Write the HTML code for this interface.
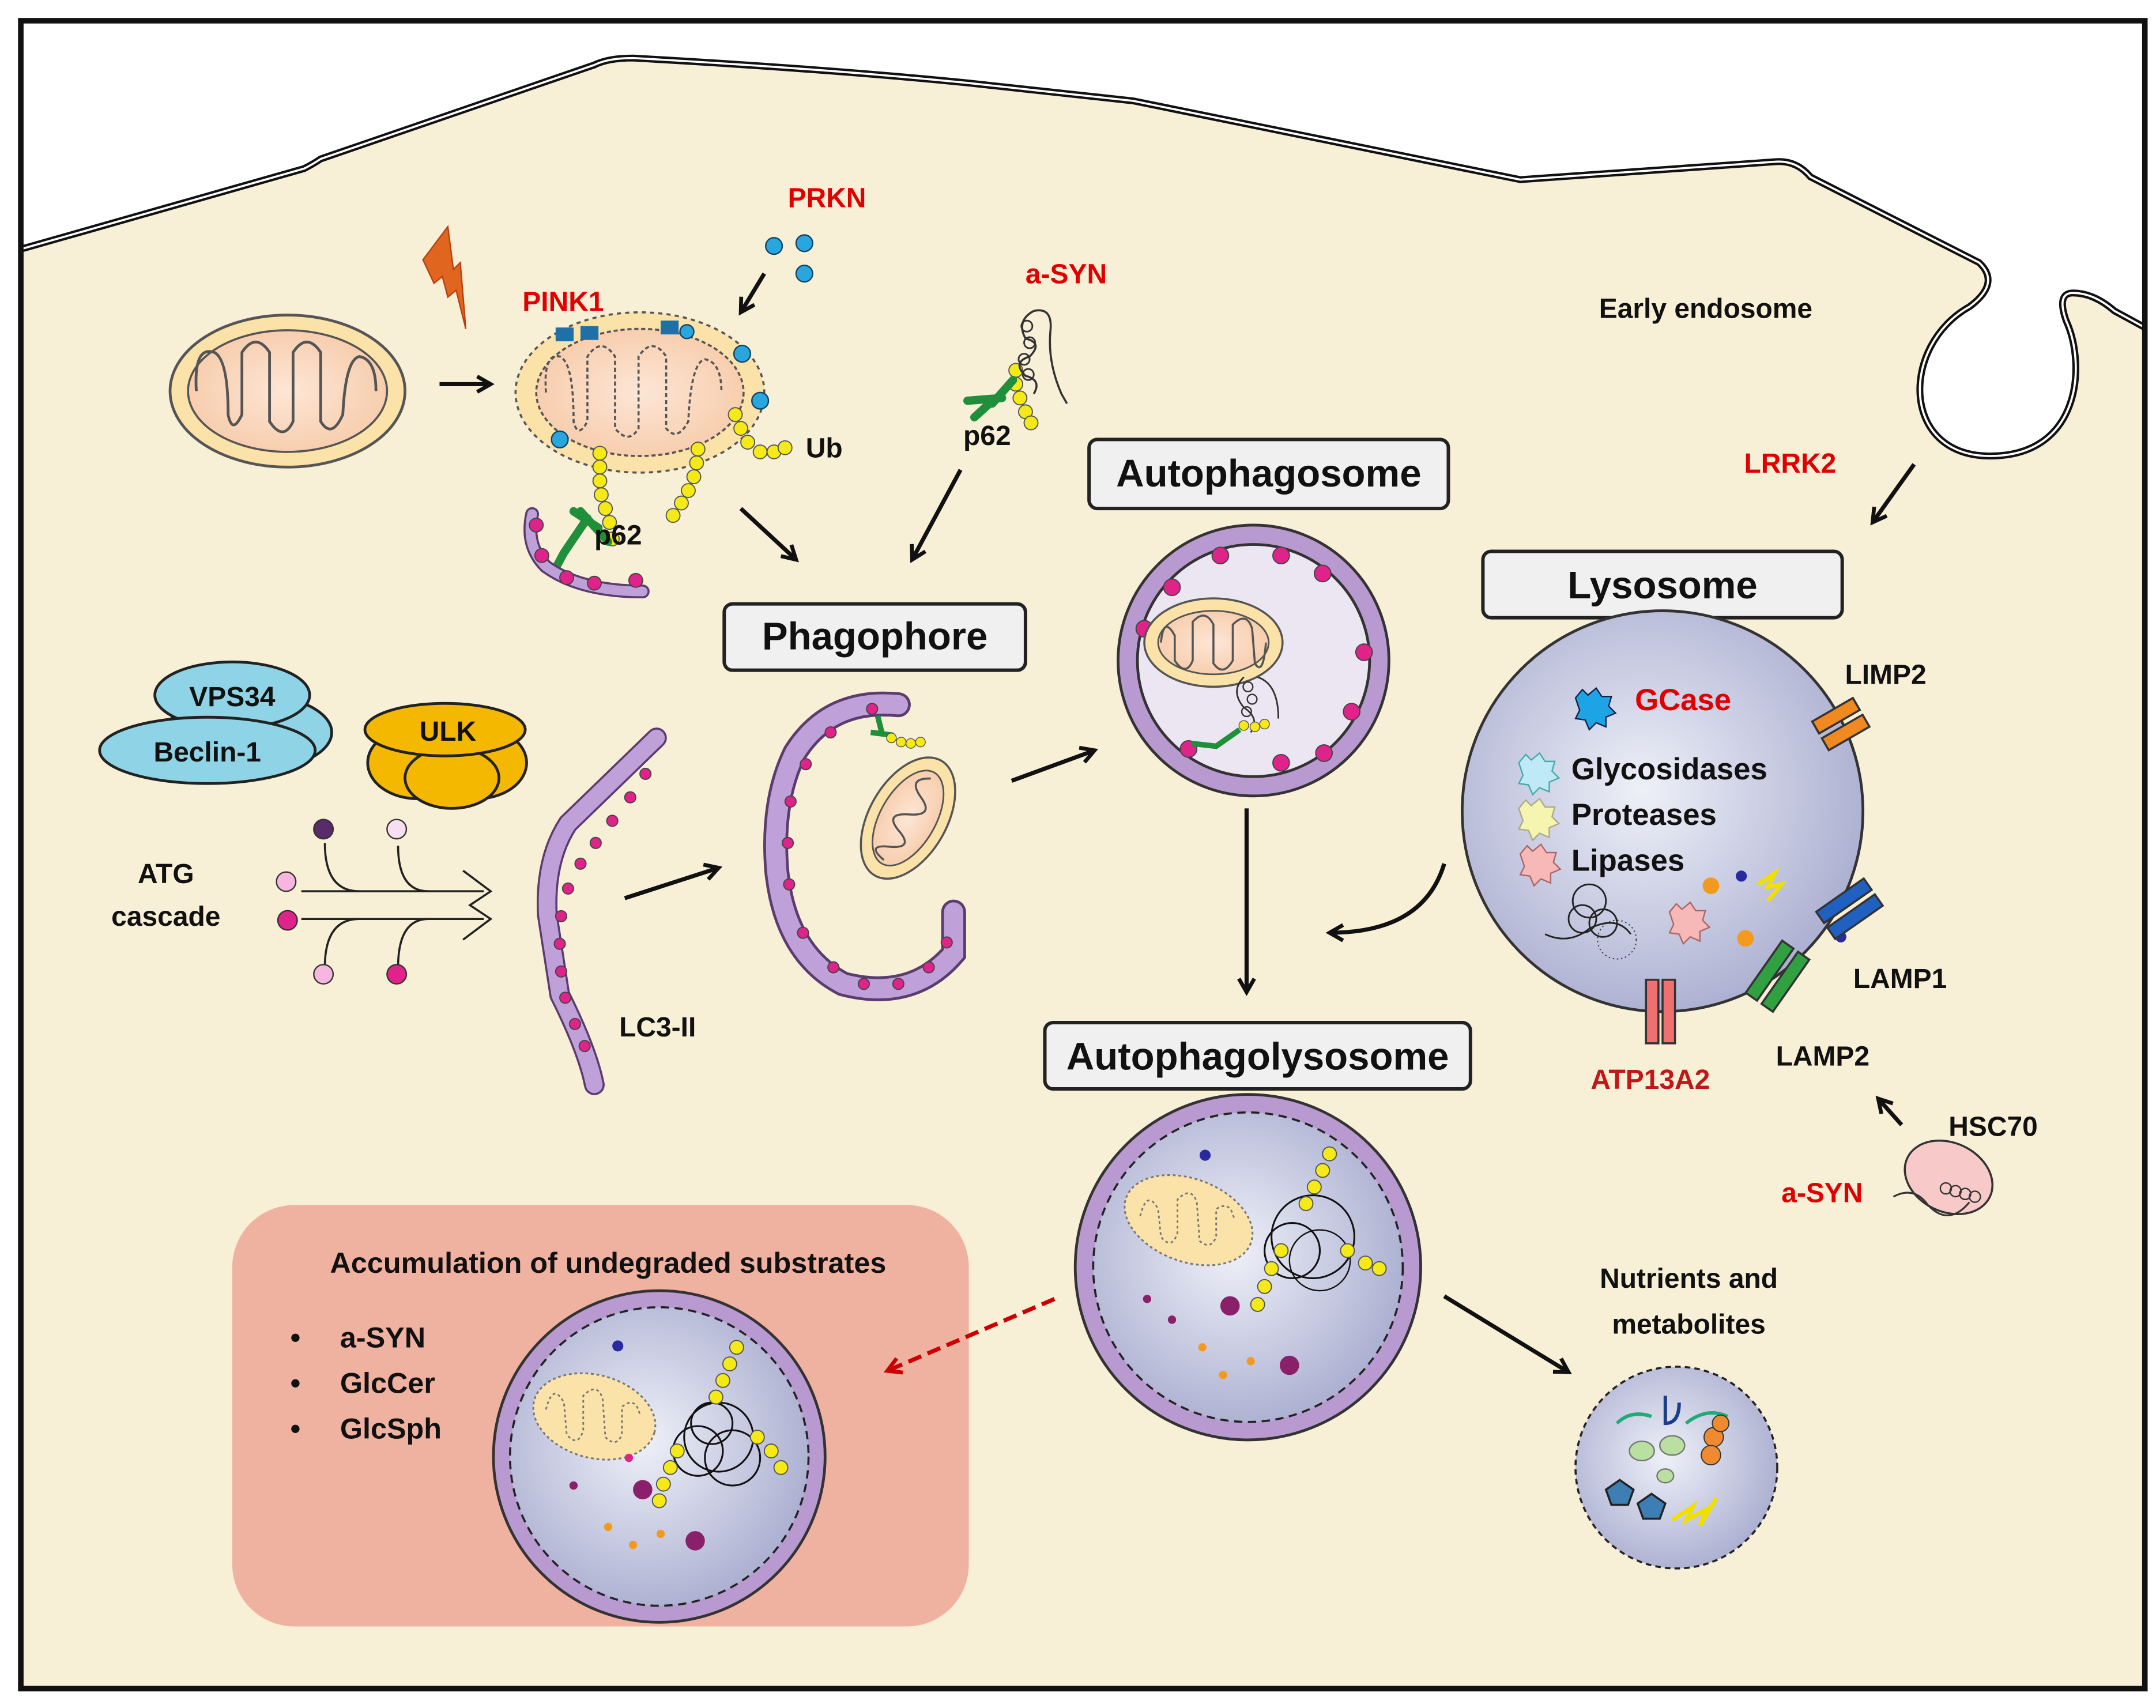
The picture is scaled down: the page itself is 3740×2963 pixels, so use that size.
<!DOCTYPE html>
<html><head><style>html,body{margin:0;padding:0;background:#fff}svg{display:block}
text{font-family:"Liberation Sans",sans-serif;font-weight:bold}</style></head><body>
<svg width="3740" height="2963" viewBox="0 0 1560 1236" xmlns="http://www.w3.org/2000/svg">
<defs>
<marker id="ar2" viewBox="0 0 10 10" markerWidth="14" markerHeight="14" refX="8" refY="5" orient="auto" markerUnits="userSpaceOnUse"><path d="M1,1 L8,5 L1,9" fill="none" stroke="#111" stroke-width="2"/></marker>
<marker id="arr" viewBox="0 0 10 10" markerWidth="14" markerHeight="14" refX="8" refY="5" orient="auto" markerUnits="userSpaceOnUse"><path d="M1,1 L8,5 L1,9" fill="none" stroke="#c00" stroke-width="2"/></marker>
<radialGradient id="lys" cx="0.45" cy="0.45" r="0.6"><stop offset="0" stop-color="#eef0f8"/><stop offset="1" stop-color="#a9adcf"/></radialGradient>
<radialGradient id="mito" cx="0.5" cy="0.5" r="0.6"><stop offset="0" stop-color="#fde6d6"/><stop offset="1" stop-color="#f6c9a6"/></radialGradient>
</defs>
<rect x="0" y="0" width="1560" height="1236" fill="#fff"/>
<path d="M16,180 L220,122 Q226,119 232,115 L430,47 Q440,42 458,42 Q600,50 700,60 L820,73 L1100,130 L1285,117 Q1300,116 1310,128 L1432,190 Q1448,205 1425,222 C1375,250 1375,330 1440,330 C1505,330 1510,265 1495,232 Q1488,212 1500,212 Q1515,212 1530,225 L1552,237 L1552,1222 L16,1222 Z" fill="#f8efd7"/>
<path d="M16,180 L220,122 Q226,119 232,115 L430,47 Q440,42 458,42 Q600,50 700,60 L820,73 L1100,130 L1285,117 Q1300,116 1310,128 L1432,190 Q1448,205 1425,222 C1375,250 1375,330 1440,330 C1505,330 1510,265 1495,232 Q1488,212 1500,212 Q1515,212 1530,225 L1552,237" fill="none" stroke="#111" stroke-width="5"/>
<path d="M16,180 L220,122 Q226,119 232,115 L430,47 Q440,42 458,42 Q600,50 700,60 L820,73 L1100,130 L1285,117 Q1300,116 1310,128 L1432,190 Q1448,205 1425,222 C1375,250 1375,330 1440,330 C1505,330 1510,265 1495,232 Q1488,212 1500,212 Q1515,212 1530,225 L1552,237" fill="none" stroke="#fff" stroke-width="1.5"/>
<rect x="15" y="15" width="1537" height="1207" fill="none" stroke="#111" stroke-width="4"/>

<ellipse cx="208" cy="283" rx="85" ry="55" fill="#fbe2a8" stroke="#555" stroke-width="2"/>
<ellipse cx="208" cy="283" rx="72" ry="44" fill="url(#mito)" stroke="#555" stroke-width="1.5"/>
<path d="M142,283 Q140,250 155,255 Q165,260 165,300 Q168,315 175,300 L175,255 Q185,240 195,255 L195,305 Q205,320 212,305 L212,255 Q222,240 232,255 L232,305 Q240,318 248,300 Q250,260 260,258 Q272,260 272,283" fill="none" stroke="#555" stroke-width="2"/>
<line x1="318" y1="278" x2="355" y2="278" stroke="#111" stroke-width="3" marker-end="url(#ar2)"/>
<path d="M324,164 L306,188 L314,205 L320,200 L324,215 L330,210 L337,238 L333,190 L328,195 Z" fill="#e0651e" stroke="#b84010" stroke-width="1"/>
<ellipse cx="463" cy="284" rx="90" ry="58" fill="#fbe2a8" stroke="#555" stroke-width="1.5" stroke-dasharray="3,3"/>
<ellipse cx="463" cy="284" rx="75" ry="46" fill="url(#mito)" stroke="#555" stroke-width="1.5" stroke-dasharray="3,2"/>
<path d="M395,284 Q393,255 405,258 Q415,262 415,305 Q418,318 425,305 L425,258 Q435,243 445,258 L445,310 Q455,322 462,310 L462,258 Q472,243 482,258 L482,310 Q490,320 498,305 Q500,262 510,260 Q522,262 522,284" fill="none" stroke="#555" stroke-width="1.5" stroke-dasharray="3,2"/>
<g fill="#1f6fa8"><rect x="402" y="237" width="13" height="10"/><rect x="420" y="236" width="13" height="10"/><rect x="478" y="232" width="13" height="10"/></g>
<g fill="#2aa6df" stroke="#146" stroke-width="1"><circle cx="497" cy="240" r="5"/><circle cx="537" cy="256" r="6"/><circle cx="550" cy="290" r="6"/><circle cx="405" cy="318" r="6"/>
<circle cx="560" cy="178" r="6"/><circle cx="582" cy="176" r="6"/><circle cx="582" cy="198" r="6"/></g>
<text x="570" y="150" font-size="20" fill="#e00000">PRKN</text>
<text x="378" y="225" font-size="20" fill="#e00000">PINK1</text>
<line x1="553" y1="198" x2="536" y2="226" stroke="#111" stroke-width="3" marker-end="url(#ar2)"/>
<g fill="#f5ea17" stroke="#555" stroke-width="0.8">
<circle cx="434" cy="328" r="5"/><circle cx="434" cy="338" r="5"/><circle cx="434" cy="348" r="5"/><circle cx="435" cy="358" r="5"/><circle cx="438" cy="368" r="5"/><circle cx="441" cy="378" r="5"/><circle cx="443" cy="390" r="5"/>
<circle cx="505" cy="325" r="5"/><circle cx="504" cy="335" r="5"/><circle cx="502" cy="345" r="5"/><circle cx="498" cy="355" r="5"/><circle cx="493" cy="364" r="5"/><circle cx="487" cy="373" r="5"/>
<circle cx="532" cy="300" r="5"/><circle cx="536" cy="310" r="5"/><circle cx="541" cy="320" r="5"/><circle cx="550" cy="327" r="5"/><circle cx="560" cy="327" r="5"/><circle cx="568" cy="324" r="5"/>
<circle cx="735" cy="268" r="5"/><circle cx="735" cy="278" r="5"/><circle cx="738" cy="288" r="5"/><circle cx="742" cy="298" r="5"/><circle cx="746" cy="306" r="5"/>
</g>
<text x="583" y="331" font-size="20" fill="#111">Ub</text>
<path d="M440,392 L420,370 M433,382 L415,370 M425,375 L408,400 M408,400 L400,415" stroke="#1f8f3a" stroke-width="6" fill="none" stroke-linecap="round"/>
<path d="M385,372 Q380,395 395,410 Q420,428 465,428" fill="none" stroke="#5a3c6e" stroke-width="10" stroke-linecap="round"/>
<path d="M385,372 Q380,395 395,410 Q420,428 465,428" fill="none" stroke="#c0a0d8" stroke-width="7" stroke-linecap="round"/>
<g fill="#e0238a" stroke="#444" stroke-width="0.8"><circle cx="388" cy="380" r="5"/><circle cx="392" cy="402" r="5"/><circle cx="410" cy="418" r="5"/><circle cx="430" cy="422" r="5"/><circle cx="460" cy="420" r="5"/></g>
<text x="430" y="394" font-size="20" fill="#111">p62</text>
<line x1="536" y1="368" x2="576" y2="405" stroke="#111" stroke-width="3" marker-end="url(#ar2)"/>
<text x="742" y="205" font-size="20" fill="#e00000">a-SYN</text>
<path d="M748,225 Q735,232 742,245 Q755,248 745,258 Q732,262 742,272 Q754,275 748,285 M748,225 Q762,222 760,240 Q758,262 768,285 L772,292" fill="none" stroke="#333" stroke-width="1.5"/>
<g fill="none" stroke="#333" stroke-width="1.2"><circle cx="743" cy="236" r="4"/><circle cx="745" cy="248" r="4"/><circle cx="741" cy="260" r="4"/><circle cx="744" cy="271" r="4"/></g>
<path d="M733,275 L718,292 M725,288 L700,290 M716,292 L705,302" stroke="#1f8f3a" stroke-width="6" fill="none" stroke-linecap="round"/>
<text x="697" y="322" font-size="20" fill="#111">p62</text>
<line x1="695" y1="340" x2="660" y2="405" stroke="#111" stroke-width="3" marker-end="url(#ar2)"/>
<text x="1157" y="230" font-size="20" fill="#111">Early endosome</text>
<text x="1262" y="342" font-size="20" fill="#e00000">LRRK2</text>
<line x1="1385" y1="336" x2="1355" y2="378" stroke="#111" stroke-width="3" marker-end="url(#ar2)"/>

<g fill="#f0f0f0" stroke="#222" stroke-width="2.5">
<rect x="788" y="318" width="260" height="50" rx="6"/>
<rect x="524" y="437" width="218" height="48" rx="6"/>
<rect x="1073" y="399" width="260" height="48" rx="6"/>
<rect x="756" y="740" width="308" height="48" rx="6"/>
</g>
<g font-size="28" fill="#111" text-anchor="middle">
<text x="918" y="352">Autophagosome</text>
<text x="633" y="470">Phagophore</text>
<text x="1203" y="433">Lysosome</text>
<text x="910" y="774">Autophagolysosome</text>
</g>

<ellipse cx="180" cy="530" rx="60" ry="28" fill="#8ed4e6" stroke="#222" stroke-width="2"/>
<ellipse cx="168" cy="503" rx="56" ry="24" fill="#8ed4e6" stroke="#222" stroke-width="2"/>
<ellipse cx="150" cy="543" rx="78" ry="24" fill="#8ed4e6" stroke="#222" stroke-width="2"/>
<text x="168" y="511" font-size="20" fill="#111" text-anchor="middle">VPS34</text>
<text x="150" y="551" font-size="20" fill="#111" text-anchor="middle">Beclin-1</text>
<ellipse cx="302" cy="552" rx="36" ry="26" fill="#f5b800" stroke="#222" stroke-width="2"/>
<ellipse cx="345" cy="552" rx="36" ry="26" fill="#f5b800" stroke="#222" stroke-width="2"/>
<ellipse cx="327" cy="563" rx="34" ry="22" fill="#f5b800" stroke="#222" stroke-width="2"/>
<ellipse cx="322" cy="528" rx="58" ry="19" fill="#f5b800" stroke="#222" stroke-width="2"/>
<text x="324" y="536" font-size="20" fill="#111" text-anchor="middle">ULK</text>
<text x="120" y="639" font-size="20" fill="#111" text-anchor="middle">ATG</text>
<text x="120" y="670" font-size="20" fill="#111" text-anchor="middle">cascade</text>
<g stroke="#222" stroke-width="1.5" fill="none">
<path d="M218,645 L350,645 M218,665 L350,665 M335,630 L355,645 L340,655 L355,665 L335,680"/>
<path d="M235,610 Q235,645 260,645 M288,612 Q288,645 310,645 M235,700 Q235,665 260,665 M288,700 Q288,665 310,665"/>
</g>
<g stroke="#333" stroke-width="1"><circle cx="234" cy="600" r="7" fill="#5a2b6a"/><circle cx="287" cy="600" r="7" fill="#f6dff0"/><circle cx="207" cy="638" r="7" fill="#f6b6e0"/><circle cx="208" cy="666" r="7" fill="#e0238a"/><circle cx="234" cy="705" r="7" fill="#f6b6e0"/><circle cx="287" cy="705" r="7" fill="#e0238a"/></g>
<path d="M475,534 L411,596 Q394,622 396,662 L405,720 Q425,760 430,785" fill="none" stroke="#5a3c6e" stroke-width="15" stroke-linecap="round"/>
<path d="M475,534 L411,596 Q394,622 396,662 L405,720 Q425,760 430,785" fill="none" stroke="#c0a0d8" stroke-width="12" stroke-linecap="round"/>
<g fill="#e0238a" stroke="#444" stroke-width="0.8"><circle cx="467" cy="560" r="4"/><circle cx="456" cy="577" r="4"/><circle cx="443" cy="594" r="4"/><circle cx="431" cy="610" r="4"/><circle cx="420" cy="625" r="4"/><circle cx="411" cy="643" r="4"/><circle cx="406" cy="663" r="4"/><circle cx="405" cy="683" r="4"/><circle cx="406" cy="703" r="4"/><circle cx="409" cy="722" r="4"/><circle cx="416" cy="741" r="4"/><circle cx="423" cy="757" r="4"/></g>
<text x="448" y="750" font-size="20" fill="#111">LC3-II</text>
<line x1="452" y1="650" x2="520" y2="628" stroke="#111" stroke-width="3" marker-end="url(#ar2)"/>
<path d="M650,510 Q600,505 575,545 Q558,580 562,630 Q568,690 610,712 Q660,725 690,690 L690,660" fill="none" stroke="#5a3c6e" stroke-width="18" stroke-linecap="round"/>
<path d="M650,510 Q600,505 575,545 Q558,580 562,630 Q568,690 610,712 Q660,725 690,690 L690,660" fill="none" stroke="#c0a0d8" stroke-width="14" stroke-linecap="round"/>
<g fill="#e0238a" stroke="#444" stroke-width="0.8"><circle cx="631" cy="513" r="4"/><circle cx="601" cy="530" r="4"/><circle cx="583" cy="553" r="4"/><circle cx="572" cy="580" r="4"/><circle cx="570" cy="610" r="4"/><circle cx="571" cy="640" r="4"/><circle cx="581" cy="675" r="4"/><circle cx="603" cy="700" r="4"/><circle cx="625" cy="712" r="4"/><circle cx="650" cy="712" r="4"/><circle cx="672" cy="700" r="4"/><circle cx="685" cy="682" r="4"/></g>
<g transform="rotate(-60 657 592)"><ellipse cx="657" cy="592" rx="48" ry="28" fill="#fbe2a8" stroke="#555" stroke-width="1.5"/><ellipse cx="657" cy="592" rx="38" ry="20" fill="url(#mito)" stroke="#555" stroke-width="1.2"/><path d="M622,592 Q625,575 632,590 Q640,608 646,590 Q652,575 660,592 Q668,608 675,592 Q682,577 690,592" fill="none" stroke="#555" stroke-width="1.5"/></g>
<path d="M635,518 L638,530 M630,530 L646,532" stroke="#1f8f3a" stroke-width="4"/>
<g fill="#f5ea17" stroke="#555" stroke-width="0.6"><circle cx="645" cy="534" r="3.5"/><circle cx="652" cy="537" r="3.5"/><circle cx="659" cy="538" r="3.5"/><circle cx="666" cy="537" r="3.5"/></g>
<line x1="732" y1="565" x2="792" y2="543" stroke="#111" stroke-width="3" marker-end="url(#ar2)"/>
<circle cx="907" cy="478" r="98" fill="#b89ad0" stroke="#333" stroke-width="2"/>
<circle cx="907" cy="478" r="84" fill="#ece6f2" stroke="#333" stroke-width="2"/>
<g fill="#e0238a" stroke="#444" stroke-width="0.8"><circle cx="883" cy="402" r="6"/><circle cx="927" cy="402" r="6"/><circle cx="957" cy="415" r="6"/><circle cx="987" cy="472" r="6"/><circle cx="978" cy="515" r="6"/><circle cx="958" cy="545" r="6"/><circle cx="927" cy="552" r="6"/><circle cx="860" cy="542" r="6"/><circle cx="828" cy="455" r="6"/><circle cx="848" cy="425" r="6"/></g>
<ellipse cx="878" cy="465" rx="50" ry="32" fill="#fbe2a8" stroke="#555" stroke-width="1.5"/><ellipse cx="878" cy="465" rx="40" ry="23" fill="url(#mito)" stroke="#555" stroke-width="1.2"/>
<path d="M840,465 Q842,445 850,460 L850,478 Q858,490 863,478 L863,450 Q872,440 878,452 L878,480 Q885,490 892,478 L892,452 Q902,442 906,455 L908,480 Q914,490 916,465" fill="none" stroke="#555" stroke-width="1.5"/>
<path d="M900,490 Q890,500 900,512 Q912,520 905,530 M910,490 Q925,495 925,520" fill="none" stroke="#333" stroke-width="1.2"/>
<g fill="none" stroke="#333" stroke-width="1"><circle cx="903" cy="497" r="3.5"/><circle cx="906" cy="506" r="3.5"/><circle cx="902" cy="515" r="3.5"/></g>
<path d="M897,528 L880,540 L862,538" stroke="#1f8f3a" stroke-width="4" fill="none"/>
<g fill="#f5ea17" stroke="#555" stroke-width="0.6"><circle cx="900" cy="525" r="3.5"/><circle cx="908" cy="526" r="3.5"/><circle cx="915" cy="524" r="3.5"/></g>
<line x1="902" y1="585" x2="902" y2="718" stroke="#111" stroke-width="3" marker-end="url(#ar2)"/>
<circle cx="1203" cy="587" r="145" fill="url(#lys)" stroke="#333" stroke-width="2"/>
<path d="M1140,505 l5,-6 l4,4 l6,-5 l4,6 l7,0 l-2,7 l5,5 l-7,3 l0,7 l-7,-3 l-5,5 l-3,-7 l-7,-1 l3,-6 z" fill="#1da4e6" stroke="#124" stroke-width="1"/>
<path d="M1099,552 l5,-6 l4,4 l6,-5 l4,6 l7,0 l-2,7 l5,5 l-7,3 l0,7 l-7,-3 l-5,5 l-3,-7 l-7,-1 l3,-6 z" fill="#bfe9f7" stroke="#4aa" stroke-width="1"/>
<path d="M1099,585 l5,-6 l4,4 l6,-5 l4,6 l7,0 l-2,7 l5,5 l-7,3 l0,7 l-7,-3 l-5,5 l-3,-7 l-7,-1 l3,-6 z" fill="#f6f5b0" stroke="#aa8" stroke-width="1"/>
<path d="M1100,618 l5,-6 l4,4 l6,-5 l4,6 l7,0 l-2,7 l5,5 l-7,3 l0,7 l-7,-3 l-5,5 l-3,-7 l-7,-1 l3,-6 z" fill="#f7b8b8" stroke="#a66" stroke-width="1"/>
<path d="M1208,660 l5,-6 l4,4 l6,-5 l4,6 l7,0 l-2,7 l5,5 l-7,3 l0,7 l-7,-3 l-5,5 l-3,-7 l-7,-1 l3,-6 z" fill="#f7b8b8" stroke="#a66" stroke-width="1"/>
<text x="1183" y="514" font-size="22" fill="#e00000">GCase</text>
<g font-size="22" fill="#111"><text x="1137" y="564">Glycosidases</text><text x="1137" y="597">Proteases</text><text x="1137" y="630">Lipases</text></g>
<g fill="none" stroke="#222" stroke-width="1.2"><circle cx="1150" cy="652" r="12"/><circle cx="1145" cy="665" r="10"/><circle cx="1160" cy="668" r="10"/><path d="M1118,676 Q1135,684 1150,672 Q1170,662 1180,676"/></g>
<circle cx="1170" cy="680" r="14" fill="none" stroke="#333" stroke-width="0.8" stroke-dasharray="1,2"/>
<circle cx="1238" cy="641" r="6" fill="#f39a1e"/><circle cx="1263" cy="679" r="6" fill="#f39a1e"/><circle cx="1260" cy="634" r="4" fill="#2a2aa0"/><circle cx="1332" cy="678" r="4" fill="#2a2aa0"/>
<path d="M1272,640 l12,-8 l-5,10 l10,-2 l-10,12" fill="none" stroke="#f0e000" stroke-width="3"/>
<g stroke="#333" stroke-width="1.5">
<g transform="rotate(-30 1332 524)"><rect x="1315" y="512" width="34" height="10" fill="#f08a20"/><rect x="1315" y="526" width="34" height="10" fill="#f08a20"/></g>
<g transform="rotate(-35 1338 659)"><rect x="1318" y="646" width="42" height="10" fill="#2060c0"/><rect x="1318" y="660" width="42" height="10" fill="#2060c0"/></g>
<g transform="rotate(-55 1287 707)"><rect x="1264" y="694" width="46" height="10" fill="#30a040"/><rect x="1264" y="708" width="46" height="10" fill="#30a040"/></g>
<rect x="1191" y="709" width="9" height="46" fill="#f07070"/><rect x="1203" y="709" width="9" height="46" fill="#f07070"/>
</g>
<g font-size="20" fill="#111"><text x="1335" y="495">LIMP2</text><text x="1341" y="715">LAMP1</text><text x="1285" y="771">LAMP2</text><text x="1410" y="822">HSC70</text></g>
<text x="1151" y="788" font-size="20" fill="#c01818">ATP13A2</text>
<text x="1289" y="870" font-size="20" fill="#e00000">a-SYN</text>
<line x1="1376" y1="814" x2="1359" y2="795" stroke="#111" stroke-width="3" marker-end="url(#ar2)"/>
<ellipse cx="1410" cy="852" rx="33" ry="25" fill="#f7c9c9" stroke="#333" stroke-width="1.5" transform="rotate(25 1410 852)"/>
<path d="M1370,866 Q1385,858 1395,872 Q1410,888 1425,870" fill="none" stroke="#333" stroke-width="1.3"/>
<g fill="none" stroke="#333" stroke-width="1"><circle cx="1408" cy="860" r="4"/><circle cx="1415" cy="862" r="4"/><circle cx="1422" cy="864" r="4"/><circle cx="1429" cy="866" r="4"/></g>
<path d="M1045,625 Q1030,675 962,675" fill="none" stroke="#111" stroke-width="3" marker-end="url(#ar2)"/>
<circle cx="903" cy="917" r="125" fill="#b89ad0" stroke="#333" stroke-width="2"/>
<circle cx="903" cy="917" r="112" fill="url(#lys)" stroke="#222" stroke-width="1.5" stroke-dasharray="6,4"/>
<ellipse cx="860" cy="883" rx="48" ry="30" fill="#fbe2a8" stroke="#777" stroke-width="1.3" stroke-dasharray="2,2" transform="rotate(20 860 883)"/>
<path d="M825,880 Q830,860 838,875 L840,895 Q848,905 852,892 L852,868 Q862,858 866,870 L868,898 Q876,905 880,895 L880,875 Q890,868 893,882" fill="none" stroke="#777" stroke-width="1.2" stroke-dasharray="2,2"/>
<circle cx="950" cy="895" r="30" fill="none" stroke="#111" stroke-width="1.3"/><circle cx="935" cy="905" r="20" fill="none" stroke="#111" stroke-width="1.3"/><circle cx="955" cy="912" r="22" fill="none" stroke="#111" stroke-width="1"/>
<g fill="#f5ea17" stroke="#555" stroke-width="0.8"><circle cx="962" cy="835" r="5"/><circle cx="957" cy="847" r="5"/><circle cx="951" cy="859" r="5"/><circle cx="945" cy="871" r="5"/><circle cx="927" cy="905" r="5"/><circle cx="920" cy="918" r="5"/><circle cx="915" cy="931" r="5"/><circle cx="910" cy="944" r="5"/><circle cx="975" cy="905" r="5"/><circle cx="988" cy="914" r="5"/><circle cx="998" cy="918" r="5"/></g>
<circle cx="872" cy="836" r="4" fill="#2a2aa0"/><circle cx="890" cy="945" r="7" fill="#8a1f6a"/><circle cx="933" cy="988" r="7" fill="#8a1f6a"/><circle cx="848" cy="955" r="3" fill="#8a1f6a"/><circle cx="870" cy="975" r="3" fill="#f39a1e"/><circle cx="885" cy="995" r="3" fill="#f39a1e"/><circle cx="905" cy="985" r="3" fill="#f39a1e"/><circle cx="830" cy="940" r="3" fill="#8a1f6a"/>
<line x1="1045" y1="938" x2="1135" y2="993" stroke="#111" stroke-width="3" marker-end="url(#ar2)"/>
<text x="1222" y="932" font-size="20" fill="#111" text-anchor="middle">Nutrients and</text>
<text x="1222" y="965" font-size="20" fill="#111" text-anchor="middle">metabolites</text>
<circle cx="1213" cy="1062" r="73" fill="url(#lys)" stroke="#222" stroke-width="1.5" stroke-dasharray="4,3"/>
<path d="M1170,1030 Q1180,1020 1195,1025 M1220,1030 Q1235,1018 1250,1025" fill="none" stroke="#2a7" stroke-width="2.5"/>
<path d="M1205,1010 L1205,1030 Q1215,1030 1215,1015" fill="none" stroke="#1a3f8a" stroke-width="2.5"/>
<ellipse cx="1188" cy="1050" rx="9" ry="7" fill="#b9e0a0" stroke="#777"/><ellipse cx="1210" cy="1046" rx="9" ry="7" fill="#b9e0a0" stroke="#777"/><ellipse cx="1205" cy="1068" rx="6" ry="5" fill="#b9e0a0" stroke="#777"/>
<g fill="#f08a30" stroke="#333" stroke-width="0.8"><circle cx="1240" cy="1040" r="7"/><circle cx="1238" cy="1053" r="7"/><circle cx="1245" cy="1030" r="6"/></g>
<path d="M1162,1078 l10,-7 l10,7 l-4,11 l-12,0 z M1185,1088 l10,-7 l10,7 l-4,11 l-12,0 z" fill="#3d7fb5" stroke="#222" stroke-width="1.5"/>
<path d="M1210,1100 l15,-10 l-5,10 l15,-8 l-5,12 l12,-20" fill="none" stroke="#f0e000" stroke-width="3"/>
<rect x="168" y="872" width="533" height="305" rx="45" fill="#f0b2a0"/>
<text x="440" y="921" font-size="21" fill="#111" text-anchor="middle">Accumulation of undegraded substrates</text>
<g font-size="21" fill="#111"><text x="210" y="975">•</text><text x="246" y="975">a-SYN</text><text x="210" y="1008">•</text><text x="246" y="1008">GlcCer</text><text x="210" y="1041">•</text><text x="246" y="1041">GlcSph</text></g>
<line x1="763" y1="940" x2="642" y2="992" stroke="#c00" stroke-width="3" stroke-dasharray="10,5" marker-end="url(#arr)"/>
<circle cx="477" cy="1054" r="120" fill="#b89ad0" stroke="#333" stroke-width="2"/>
<circle cx="477" cy="1054" r="108" fill="url(#lys)" stroke="#222" stroke-width="1.5" stroke-dasharray="6,4"/>
<ellipse cx="430" cy="1025" rx="45" ry="30" fill="#fbe2a8" stroke="#777" stroke-width="1.3" stroke-dasharray="2,2" transform="rotate(15 430 1025)"/>
<path d="M395,1020 Q400,1000 408,1015 L410,1038 Q418,1048 422,1035 L422,1010 Q432,1000 436,1012 L438,1040 Q446,1048 450,1038 L450,1018 Q460,1010 463,1024" fill="none" stroke="#777" stroke-width="1.2" stroke-dasharray="2,2"/>
<g fill="none" stroke="#111" stroke-width="1.3"><circle cx="520" cy="1040" r="25"/><circle cx="505" cy="1050" r="18"/><circle cx="530" cy="1055" r="20"/><circle cx="515" cy="1030" r="15"/></g>
<g fill="#f5ea17" stroke="#555" stroke-width="0.8"><circle cx="533" cy="975" r="5"/><circle cx="528" cy="987" r="5"/><circle cx="523" cy="999" r="5"/><circle cx="518" cy="1011" r="5"/><circle cx="490" cy="1050" r="5"/><circle cx="485" cy="1062" r="5"/><circle cx="480" cy="1074" r="5"/><circle cx="477" cy="1086" r="5"/><circle cx="548" cy="1040" r="5"/><circle cx="558" cy="1050" r="5"/><circle cx="565" cy="1062" r="5"/></g>
<circle cx="447" cy="974" r="4" fill="#2a2aa0"/><circle cx="465" cy="1078" r="7" fill="#8a1f6a"/><circle cx="503" cy="1115" r="7" fill="#8a1f6a"/><circle cx="415" cy="1075" r="3" fill="#8a1f6a"/><circle cx="440" cy="1105" r="3" fill="#f39a1e"/><circle cx="458" cy="1118" r="3" fill="#f39a1e"/><circle cx="478" cy="1110" r="3" fill="#f39a1e"/><circle cx="455" cy="1055" r="3" fill="#e0238a"/>
</svg>
</body></html>
